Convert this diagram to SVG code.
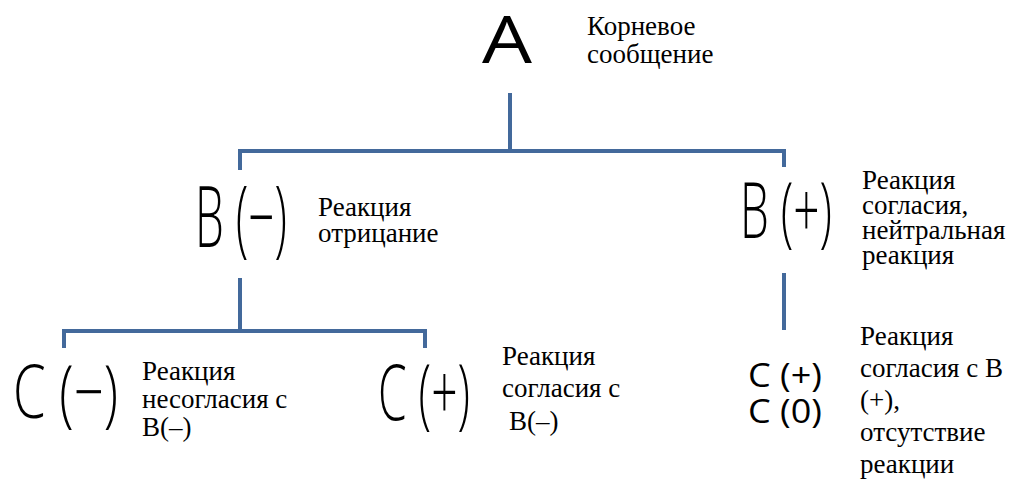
<svg xmlns="http://www.w3.org/2000/svg" width="1019" height="482" viewBox="0 0 1019 482">
<style>
.ln{fill:none;stroke:#43699b;stroke-width:4;stroke-linejoin:miter}
.big{font-family:"Open Sans","Liberation Sans",sans-serif;font-weight:300;fill:#000}
.sm{font-family:"Open Sans","Liberation Sans",sans-serif;font-weight:400;fill:#000}
.lbl{font-family:"Liberation Serif","DejaVu Serif",serif;font-size:27px;fill:#000}
</style>
<rect width="1019" height="482" fill="#fff"/>
<g id="connectors">
<line class="ln" x1="510" y1="93" x2="510" y2="151"/>
<polyline class="ln" points="240,170 240,151 784,151 784,167"/>
<line class="ln" x1="240" y1="278" x2="240" y2="331"/>
<polyline class="ln" points="64,348 64,331 425,331 425,348"/>
<line class="ln" x1="784" y1="273" x2="784" y2="330"/>
</g>
<g id="nodeA">
<text class="sm" x="482" y="63" font-size="66" textLength="50" lengthAdjust="spacingAndGlyphs">A</text>
<text class="lbl" x="587" y="35">Корневое</text>
<text class="lbl" x="587" y="63">сообщение</text>
</g>
<g id="nodeBminus">
<text class="big" x="195" y="247" font-size="84" textLength="92" lengthAdjust="spacingAndGlyphs">B (−)</text>
<text class="lbl" x="318" y="216">Реакция</text>
<text class="lbl" x="318" y="242">отрицание</text>
</g>
<g id="nodeBplus">
<text class="big" x="740" y="238" font-size="77" textLength="92" lengthAdjust="spacingAndGlyphs">B (+)</text>
<text class="lbl" x="862" y="189">Реакция</text>
<text class="lbl" x="862" y="214">согласия,</text>
<text class="lbl" x="862" y="239">нейтральная</text>
<text class="lbl" x="862" y="264">реакция</text>
</g>
<g id="nodeCminus">
<text class="big" x="13" y="418" font-size="74" textLength="105" lengthAdjust="spacingAndGlyphs">C (−)</text>
<text class="lbl" x="142" y="380" font-size="26">Реакция</text>
<text class="lbl" x="142" y="408" font-size="26">несогласия с</text>
<text class="lbl" x="142" y="436" font-size="26">B(–)</text>
</g>
<g id="nodeCplus">
<text class="big" x="378" y="420" font-size="77" textLength="92" lengthAdjust="spacingAndGlyphs">C (+)</text>
<text class="lbl" x="502" y="365" font-size="28">Реакция</text>
<text class="lbl" x="502" y="397" font-size="28">согласия с</text>
<text class="lbl" x="509" y="430" font-size="28">B(–)</text>
</g>
<g id="nodeCright">
<text class="sm" x="748" y="387" font-size="33" textLength="74" lengthAdjust="spacingAndGlyphs">C (+)</text>
<text class="sm" x="748" y="423" font-size="33" textLength="74" lengthAdjust="spacingAndGlyphs">C (0)</text>
<text class="lbl" x="860" y="345" font-size="29">Реакция</text>
<text class="lbl" x="860" y="377" font-size="29">согласия с В</text>
<text class="lbl" x="860" y="409" font-size="29">(+),</text>
<text class="lbl" x="860" y="441" font-size="29">отсутствие</text>
<text class="lbl" x="860" y="473" font-size="29">реакции</text>
</g>
</svg>
